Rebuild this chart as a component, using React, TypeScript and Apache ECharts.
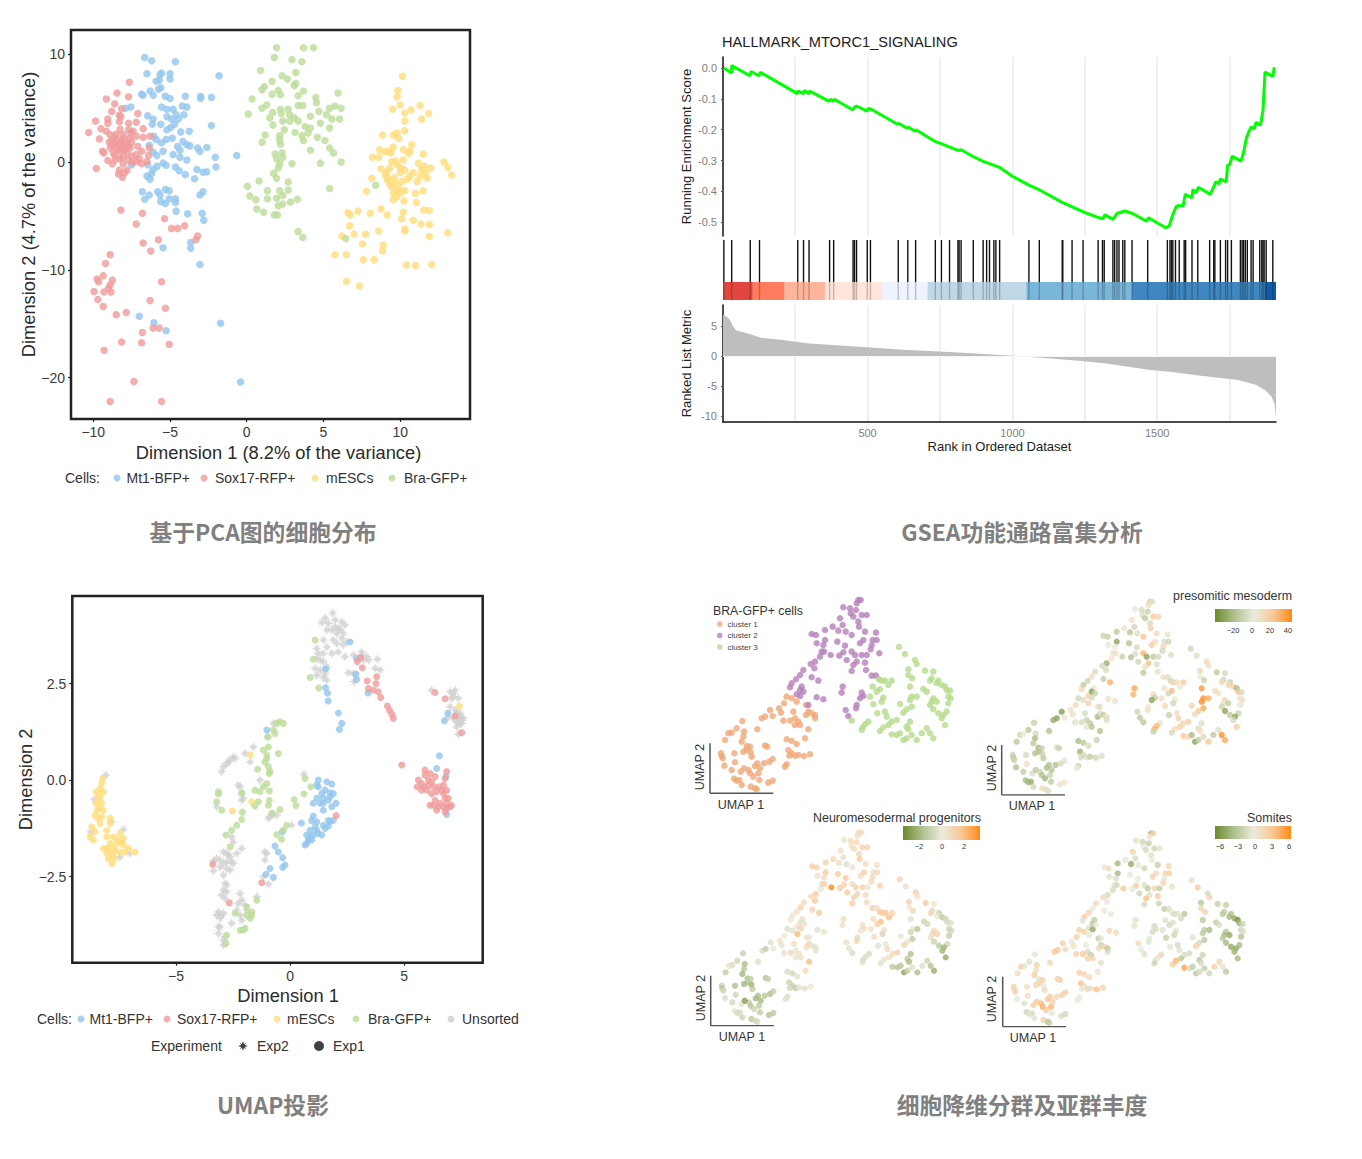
import React, { useEffect, useRef } from "react";
import * as echarts from "echarts";

const FONT = "Liberation Sans";
const CJK = "Noto Sans CJK SC";
const BLUE = "#92C6EE";
const RED = "#F09A9A";
const YELLOW = "#FFDD7C";
const GREEN = "#BBDC98";
const GREY = "#CFCFCF";
const STAR = "path://M5 0L6.1 3.2L8.5 1.5L6.8 3.9L10 5L6.8 6.1L8.5 8.5L6.1 6.8L5 10L3.9 6.8L1.5 8.5L3.2 6.1L0 5L3.2 3.9L1.5 1.5L3.9 3.2Z";

const pcaMt1 = [[-6.65,9.7],[-6.2,9.4],[-4.65,9.3],[-6.5,8.2],[-5.65,8.1],[-5.55,8.25],[-5,8.2],[-5,7.7],[-5.9,7.5],[-5.7,7.6],[-1.8,8],[-5.6,6.9],[-5.75,6.75],[-6.85,6.3],[-6.75,6.2],[-6.3,6.6],[-6.1,6.2],[-5.3,6.1],[-5,5.9],[-4,6.1],[-3,6.1],[-3,5.9],[-2.3,6],[-7.9,5],[-7.55,5.1],[-5.55,5.1],[-5.2,4.9],[-4.8,4.9],[-4.2,5.2],[-3.9,5.1],[-4.6,4.4],[-4.1,4.4],[-6.45,4.3],[-6.1,4],[-5.2,4.2],[-4.9,4],[-4.45,4],[-6.15,3.5],[-5.6,3.5],[-4.7,3.5],[-5.2,3],[-4.95,3.2],[-2.3,3.4],[-4.3,2.8],[-3.75,2.85],[-6.05,2.4],[-5.9,2.1],[-5.55,1.8],[-5.25,2.1],[-4.85,2.2],[-4.15,1.9],[-4.5,1.45],[-4.35,1.1],[-3.9,1.6],[-3.7,1.5],[-3.2,1.3],[-3.05,1],[-2.6,1.35],[-6.35,1.55],[-6.1,0.9],[-5.85,0.6],[-5.45,1],[-4.8,0.7],[-4.35,0.45],[-3.9,0.2],[-2.05,0.45],[-2,-0.45],[-0.65,0.6],[-5.45,-0.1],[-5.25,-0.3],[-4.65,-0.45],[-4.4,-0.8],[-4,-1.15],[-3.25,-0.7],[-2.85,-0.95],[-2.6,-0.9],[-3.4,-1.55],[-5.85,-0.4],[-6.1,-0.7],[-6.5,-1.3],[-6.3,-1.6],[-6.2,-1.05],[-7.5,-0.25],[-6.45,-0.25],[-6.8,-2.75],[-6.35,-3.05],[-6.65,-3.45],[-5.8,-2.75],[-5.65,-3.05],[-5.3,-2.55],[-5.05,-2.65],[-5.6,-3.65],[-5.3,-3.85],[-5.05,-3.4],[-4.65,-3.4],[-4.65,-3.75],[-3.05,-3.05],[-2.85,-2.75],[-4.6,-4.55],[-3.85,-4.8],[-2.9,-4.75],[-2.8,-5.4],[-3.65,-7.45],[-3.65,-8],[-5.45,-7.95],[-3.05,-9.5],[-7,-14.3],[-6.05,-14.9],[-5.25,-15.65],[-1.7,-14.95],[-0.4,-20.4]];
const pcaSox17 = [[-7.65,7.4],[-8.45,6.4],[-9.15,5.85],[-7.7,6.05],[-8.6,5.4],[-8.15,4.95],[-8.8,4.7],[-7.1,4.5],[-8.3,4.35],[-9.05,4],[-9.85,3.8],[-9.05,3.6],[-7.7,3.6],[-7.2,3.7],[-9.5,3.1],[-8.3,3.75],[-6.75,3.1],[-10.3,2.75],[-9.15,2.85],[-8.25,3.05],[-7.7,3],[-7.4,2.85],[-9.6,2.15],[-8.9,2.55],[-8.6,2.3],[-8.05,2.55],[-7.6,2.2],[-7.2,2.4],[-6.75,2.3],[-6.3,2.4],[-8.95,1.85],[-8.6,1.75],[-8.15,2],[-7.8,1.75],[-7.5,1.85],[-7.1,1.45],[-8.9,1.3],[-8.5,1.3],[-8.05,1.45],[-7.6,1.3],[-9.4,1],[-9.3,0.85],[-8.7,0.85],[-8.25,1],[-7.8,0.85],[-6.85,1],[-6.35,1.3],[-6.4,0.6],[-9.05,0.15],[-8.75,-0.15],[-8.25,0.3],[-8.05,-0.15],[-7.7,0.2],[-7.2,0.7],[-7.2,0.05],[-6.85,-0.15],[-6.5,0.05],[-9.8,-0.6],[-8.3,-0.75],[-7.8,-0.75],[-8.35,-1.1],[-8.1,-1.4],[-7.95,-1],[-8.4,2.05],[-8.8,2.1],[-8.2,1.6],[-7.95,2.2],[-8.3,1.15],[-7.95,1.15],[-8.6,0.6],[-7.5,0.55],[-8.2,4.2],[-8.05,0.5],[-8.75,1.55],[-8.4,1.6],[-7.7,1.55],[-8.5,2.6],[-7.55,2.7],[-8.55,0.25],[-7.45,-0.05],[-7.0,0.3],
[-8.2,-4.45],[-6.8,-4.75],[-7.2,-5.75],[-5.35,-5.25],[-4.9,-6.15],[-4.5,-6.15],[-4.05,-5.9],[-3.2,-6.85],[-3.3,-7.2],[-5.75,-7.2],[-6.75,-7.5],[-6.25,-8.25],[-8.9,-8.6],[-9.2,-9.4],[-9.35,-10.55],[-9.75,-10.85],[-9.65,-11.1],[-8.75,-10.95],[-8.9,-11.4],[-9,-11.7],[-9.95,-12],[-9.3,-12.05],[-8.85,-12.05],[-9.7,-12.75],[-9.35,-13.4],[-5.55,-11.1],[-6.3,-12.85],[-5.3,-13.55],[-8.5,-14.15],[-7.85,-13.95],[-6.8,-15.8],[-6.1,-15.4],[-5.7,-15.4],[-8.15,-16.7],[-6.85,-16.75],[-5.05,-16.9],[-9.3,-17.45],[-7.35,-20.35],[-8.9,-22.2],[-5.55,-22.2]];
const pcaMesc = [[10.15,7.95],[9.85,6.65],[9.8,6.05],[10,5.3],[9.5,4.9],[11.3,5.25],[10.7,4.85],[10.3,4.55],[11.85,4.5],[11.4,4],[10.3,3.8],[10.3,2.9],[8.85,2.5],[9.55,2.5],[9.9,2.2],[9.8,2.7],[10.75,1.6],[10.2,1.15],[8.65,1.15],[9.25,1],[9.55,1.4],[10.65,1],[11.5,0.75],[8.2,0.45],[8.6,0.45],[10.2,0.2],[9.45,0],[9.8,-0.25],[11.2,-0.1],[12.85,0],[13.1,-0.5],[13.35,-1.2],[8.75,-0.65],[12,-0.55],[9.05,-1.2],[10,-1],[10.85,-1],[11.65,-1],[8.15,-1.5],[9.15,-1.65],[10.45,-1.6],[11.1,-1.8],[11.75,-1.5],[9.4,-2.25],[9.9,-2.4],[10.3,-2.65],[9.55,-2.9],[7.8,-2.7],[11,-2.9],[11.5,-2.65],[9.55,-3.5],[10.25,-3.6],[11.05,-3.75],[9,0.95],[9.4,0.85],[9.7,0.1],[10.05,-0.55],[9.3,-0.6],[9.2,-1.55],[9.7,-1.9],[10.1,-1.8],[9.75,-2.6],[10,-2.85],[9.35,-2.05],[11.4,-0.7],[11.6,-0.4],[10.6,-1.35],[10.55,0.8],[9.1,-0.95],[9.6,-1.45],[10.3,-0.75],[11.3,-1.3],[9.8,-3.2],
[8.75,-4.35],[11.55,-4.45],[11.9,-4.5],[6.6,-4.7],[6.75,-4.9],[7.25,-4.55],[8.05,-4.75],[9.15,-4.9],[10.2,-4.65],[10.1,-5.25],[10.85,-5.4],[11.35,-5.75],[11.9,-5.8],[6.7,-5.9],[10.3,-6.2],[10.3,-6.4],[8.6,-6.4],[7.75,-6.7],[7,-6.7],[6.2,-6.85],[13.1,-6.55],[11.9,-6.9],[8.9,-7.7],[7.55,-7.6],[8.85,-8.25],[5.75,-8.6],[6.5,-8.6],[7.6,-9.05],[8.3,-9.05],[10.4,-9.55],[11,-9.6],[12.05,-9.5],[6.5,-11.05],[7.35,-11.5]];
const pcaBra = [[1.95,10.6],[3.7,10.6],[4.35,10.6],[1.8,9.7],[2.95,9.5],[3.6,9.3],[0.9,8.5],[3.2,8.3],[2.3,8],[2.65,7.7],[1.65,7.5],[3.2,7.3],[3.1,7.1],[1.15,7],[1,6.7],[2.05,6.65],[2.2,6.25],[1.65,6.3],[3.7,6.6],[3.35,6.15],[5.95,6.4],[4.5,6],[0.35,5.85],[4.55,5.5],[1.3,5.3],[1,5],[3.35,5.25],[3.65,5.25],[2.2,4.9],[2.7,4.9],[5.75,5.2],[5.4,5],[6.15,5],[4.7,4.7],[0.1,4.45],[1.7,4.6],[2.25,4.5],[1.5,4.1],[2.8,4.4],[3.1,4.1],[4.15,4.25],[5.2,4.4],[5.55,4],[6.05,4],[2.35,3.8],[2.8,3.8],[3.35,3.8],[1.7,3.45],[4.8,3.6],[3.8,3.3],[4.15,3.15],[2.45,3],[3.15,2.75],[4,2.7],[5.4,3.15],[1.2,2.5],[2.15,2.45],[3.6,2.45],[4.6,2.3],[1,1.85],[2.15,2.05],[2.2,1.65],[3.7,2],[5.1,2],[5.4,1.3],[4.15,1.1],[5.65,0.85],[1.85,0.75],[2.3,0.85],[1.95,0.3],[2.35,0.45],[6.15,0],[4.8,-0.1],[2.95,-0.15],[2.15,-0.15],[2.05,-0.55],[1.75,-1.05],[1.95,-1.5],[0.8,-1.75],[2.7,-1.85],[0.05,-2.25],[5.4,-2.45],[1.35,-2.65],[2.15,-2.65],[2.7,-2.6],[0.2,-3.15],[0.6,-3.5],[1.35,-3.4],[1.95,-3.35],[2.35,-3.1],[3.3,-3.45],[2.85,-3.7],[2.35,-3.9],[2.05,-4.05],[0.65,-4.35],[1.1,-4.65],[1.8,-4.9],[2,-4.9],[3.35,-6.45],[3.65,-7],[6.45,-7.1],[8.4,-2.15]];

const gseaEsRank = [4,30,31,94,98,125,130,258,260,278,282,297,300,368,372,382,385,448,455,462,498,500,510,605,607,638,640,664,667,733,754,782,812,823,864,899,921,955,1000,1057,1093,1170,1245,1300,1312,1320,1347,1361,1388,1415,1463,1470,1529,1541,1552,1565,1575,1589,1597,1620,1623,1634,1642,1683,1691,1702,1713,1718,1738,1743,1750,1759,1789,1797,1808,1816,1824,1835,1841,1856,1861,1865,1872,1899,1904];
const gseaEsScore = [0,-0.016,0.008,-0.025,-0.011,-0.025,-0.014,-0.083,-0.074,-0.083,-0.073,-0.083,-0.075,-0.108,-0.101,-0.108,-0.101,-0.135,-0.127,-0.123,-0.14,-0.133,-0.132,-0.183,-0.179,-0.196,-0.191,-0.205,-0.2,-0.238,-0.245,-0.256,-0.267,-0.265,-0.287,-0.303,-0.31,-0.322,-0.351,-0.38,-0.395,-0.435,-0.467,-0.486,-0.489,-0.476,-0.491,-0.472,-0.464,-0.472,-0.497,-0.486,-0.518,-0.513,-0.48,-0.45,-0.446,-0.448,-0.41,-0.421,-0.394,-0.405,-0.387,-0.41,-0.394,-0.369,-0.376,-0.36,-0.369,-0.316,-0.313,-0.286,-0.302,-0.278,-0.227,-0.207,-0.191,-0.198,-0.176,-0.186,-0.16,-0.138,-0.013,-0.027,0.003];
const gseaHitRanks = [4,31,95,127,259,279,298,369,383,450,455,462,499,510,606,639,666,734,755,783,812,816,823,865,899,911,921,936,943,956,1057,1093,1172,1174,1206,1244,1296,1311,1317,1347,1353,1361,1368,1381,1388,1413,1467,1535,1544,1549,1554,1563,1576,1593,1598,1620,1640,1681,1695,1699,1718,1736,1743,1756,1787,1793,1798,1804,1811,1824,1831,1854,1861,1865,1869,1876,1899];
const gseaBandEdges = [1,104,214,353,550,707,1048,1413,1872,1910];
const gseaBandColors = ["#E2473F","#FF7C5E","#FFB59C","#FFE5DA","#EFF3FF","#BFD8E8","#78B6DA","#3F87C0","#0F5BA6"];
const metricRank = [1,15,25,35,46,90,135,200,298,500,620,748,860,1000,1020,1100,1240,1330,1470,1550,1650,1780,1840,1875,1895,1905,1910];
const metricValue = [6.9,6.5,6,5,4.3,3.7,3,2.7,2.1,1.45,1.05,0.75,0.45,0.03,0,-0.3,-0.85,-1.3,-2.3,-2.65,-3.3,-4,-4.8,-5.8,-6.8,-8,-10.3];

const umapUnsorted = [[1.87,4.33],[1.54,4.19],[1.39,4.08],[1.68,4.06],[1.97,4.15],[2.27,4.1],[2.41,4.02],[1.83,3.89],[2.05,3.8],[2.27,3.67],[2.49,3.58],[1.46,3.63],[1.17,3.41],[1.46,3.28],[1.83,3.28],[2.12,3.32],[2.41,3.2],[1.17,3.15],[1.46,3.07],[1.61,2.94],[1.1,2.89],[1.17,2.72],[1.46,2.66],[1.61,2.59],[2.78,3.24],[3.14,3.32],[3.22,3.11],[3.44,3.11],[3.83,3.13],[3.73,2.89],[3.95,2.85],[2.56,2.78],[2.78,2.76],[2.81,2.55],[6.21,2.33],[7.02,2.29],[7.09,2.12],[7.38,2.12],[7.02,1.9],[7.38,1.68],[7.6,1.6],[7.38,1.51],[7.16,1.6],[7.31,1.38],[6.94,1.64],[7.38,1.19],[7.53,1.55],[7.31,1.73],[0.61,0.15],[-8.08,0.13],[-8.58,-0.5],[-8.74,-1.34],[-7.31,-1.28],[-7.82,-1.08],[-7.46,-1.99],[-7.02,-1.9],[-0.73,1.47],[-0.95,1.12],[-1.61,0.86],[-1.97,0.69],[-2.49,0.6],[-2.63,0.52],[-2.78,0.43],[-3,0.22],[-1.75,0.47],[-2.27,-0.13],[-2.12,-0.35],[-2.12,-0.52],[-3.22,-0.69],[-0.95,-0.99],[-0.58,-0.91],[0.07,-1.17],[-1.32,0],[-2.12,-1.77],[-2.34,-1.9],[-2.92,-1.86],[-2.63,-1.99],[-3.22,-2.03],[-2.92,-2.16],[-3.36,-2.09],[-2.49,-2.16],[-2.63,-2.33],[-3.36,-2.35],[-2.92,-2.46],[-2.85,-2.68],[-2.92,-2.85],[-2.85,-3.07],[-2.19,-2.94],[-2.27,-3.2],[-3.14,-3.41],[-2.92,-3.45],[-2.34,-3.37],[-2.56,-3.71],[-2.12,-3.63],[-3.07,-3.58],[-3.14,-3.97],[-2.92,-4.27],[-1.1,-1.86],[-1.1,-2.07],[-1.17,-2.5],[-0.95,-2.69],[-1.46,-3.02],[-1.9,-3.37],[-2.7,-1.94],[-2.85,-4.06],[-3.07,-2.25],[-2.78,-2.89],[-2.78,-2.29],[-3.22,-3.5],[-3.07,-3.8],[2.12,3.93],[2.34,3.8],[1.24,3.28],[1.32,2.85],[7.24,2.33],[7.16,2.16],[7.46,1.47],[7.46,1.6],
[1.9,3.63],[2.05,3.54],[2.34,3.5],[1.61,3.45],[1.32,3.11],[1.97,3.97],[1.61,3.89],[2.19,3.89],[1.54,2.76],[3.14,3.24],[3.36,3.2],[-2.78,-1.9],[-3.07,-2.07],[-2.78,-2.12],[-2.56,-2.12],[-2.78,-2.72],[-3,-2.98],[-2.12,-3.11],[-1.97,-3.24],[-3,-3.5],[-2.19,-3.5],[-3.14,-3.8],[-2.92,-4.15],[7.24,1.81],[7.31,1.51],[7.53,1.47],[7.46,1.73],[7.16,2.25],[-2.7,0.47],[-2.41,0.56],[-2.92,0.35],[-2.19,-0.17],[-2.05,-0.47],[-0.88,-0.95],[-0.73,-0.88],[-2.56,-1.47],[-2.49,-1.6],[-1.02,-1.9]];
const umapMesc = [[-8.22,0.04],[-8.26,-0.09],[-8.33,-0.22],[-8.51,-0.3],[-8.19,-0.3],[-8.33,-0.43],[-8.51,-0.6],[-8.26,-0.6],[-8.45,-0.78],[-8.19,-0.78],[-8.55,-0.91],[-8.26,-0.95],[-7.89,-0.99],[-7.89,-1.12],[-8.33,-1.12],[-8.7,-1.21],[-8.04,-1.3],[-8.55,-1.34],[-8.77,-1.47],[-8.63,-1.55],[-8.04,-1.47],[-7.75,-1.47],[-7.46,-1.38],[-7.31,-1.51],[-7.53,-1.6],[-7.31,-1.68],[-7.68,-1.73],[-8.04,-1.77],[-8.19,-1.77],[-7.09,-1.77],[-7.24,-1.86],[-6.8,-1.86],[-8.04,-1.9],[-7.82,-1.94],[-7.68,-2.03],[-7.97,-2.03],[-7.82,-2.16],[-7.46,-1.86],[-7.89,-1.64],[-8.42,-0.45],[-8.38,-0.7],[-8.42,-1.0],[-7.6,-1.55],[-7.42,-1.6],[-7.95,-1.8],[-7.7,-1.85],[-1.75,0.66],[-1.68,-0.56],[-2.53,-0.8],[7.43,1.92]];
const umapMt1 = [[1.24,0],[1.17,-0.13],[1.61,-0.04],[1.83,-0.1],[1.39,-0.35],[1.75,-0.33],[1.9,-0.35],[1.17,-0.47],[1.46,-0.47],[1.68,-0.52],[2.02,-0.6],[1.02,-0.6],[1.83,-0.69],[1.46,-0.78],[1.02,-0.93],[1.75,-1.08],[1.9,-1.04],[1.17,-1.08],[0.95,-1.05],[0.5,-1.11],[1.54,-1.25],[1.68,-1.19],[0.88,-1.3],[1.17,-1.3],[1.39,-1.42],[0.73,-1.42],[0.95,-1.55],[0.8,-1.55],[0.73,-1.64],[0.66,-1.68],[-0.34,-1.34],[-0.66,-1.71],[-0.51,-1.86],[-0.32,-2.01],[-0.22,-2.2],[-0.32,-2.26],[-0.88,-2.29],[-1.05,-2.44],[-0.73,-2.52],[2.63,3.58],[1.56,2.88],[1.56,2.39],[1.64,2.25],[1.67,2.05],[2.12,1.74],[2.27,1.47],[2.16,1.31],[2.89,2.75],[2.92,2.61],[3.42,2.26],[6.92,1.73],[6.77,1.54],[6.55,0.63],[6.43,0.3],[6.84,0.09],[6.87,-0.89],[-1.02,1.3],[2.92,3.15],[1.24,-0.17],[1.54,-0.26],[1.75,-0.43],[1.32,-0.6],[1.46,-0.6],[1.68,-1.04],[1.46,-1.17],[1.24,-1.38],[1.1,-1.21],[1.02,-1.42],[0.88,-1.47]];
const umapSox17 = [[3.1,3.17],[2.95,3.07],[3.17,2.91],[3.39,2.57],[3.8,2.68],[3.77,2.5],[3.44,2.37],[3.65,2.33],[3.87,2.29],[3.98,2.14],[4.27,1.92],[4.36,1.81],[4.46,1.71],[4.53,1.6],[4.9,0.39],[6.36,2.27],[6.8,2.11],[7.24,1.66],[7.53,1.23],[5.92,0.26],[6.14,0.17],[5.63,0],[5.77,-0.09],[6.21,-0.04],[6.87,0.22],[6.8,0.04],[5.58,-0.17],[5.77,-0.26],[6.29,-0.17],[6.73,-0.13],[6.21,-0.35],[6.73,-0.35],[6.94,-0.47],[6.29,-0.65],[6.58,-0.6],[6.87,-0.6],[7.02,-0.69],[6.43,-0.78],[6.8,-0.82],[2.02,-0.92],[-2.66,-3.18],[-1.24,-2.66],[-3.39,-2.18],[5.92,0.13],[6.07,0],[6.36,0.09],[6.51,-0.17],[6.43,-0.3],[6.65,-0.26],[6.36,-0.52],[6.51,-0.69],[6.73,-0.69],[6.87,-0.73],[5.88,-0.17],[6,-0.26],[6.07,-0.13],[6.87,-0.26],[6.8,-0.47],[6.14,-0.65],[7.08,-0.65]];
const umapBra = [[-0.44,1.51],[-0.29,1.47],[-0.66,1.21],[-0.99,1.12],[-0.95,0.86],[-1.17,0.78],[-0.51,0.69],[-1.02,0.56],[-0.95,0.35],[-1.42,0.28],[-0.91,0.17],[-1.02,-0.09],[-1.54,-0.26],[-1.32,-0.3],[-0.91,-0.28],[-2.12,-0.33],[-3.14,-0.3],[-3.14,-0.36],[0.66,0.04],[0.91,-0.17],[0.61,-0.36],[0.18,-0.5],[0.26,-0.66],[-0.91,-0.52],[-0.95,-0.65],[-1.39,-0.56],[-1.54,-0.67],[-3.22,-0.56],[-3,-0.78],[-2.09,-0.83],[-0.44,-0.76],[-0.8,-0.85],[-2.12,-1.02],[-2.34,-1.17],[-2.56,-1.3],[-2.81,-1.42],[-2.63,-1.73],[-0.15,-1.17],[-0.29,-1.3],[-0.58,-1.41],[-0.37,-1.53],[-1.46,-3.11],[-1.68,-3.41],[-1.9,-3.28],[-1.75,-3.58],[-2.19,-3.89],[-1.97,-3.84],[-2.41,-3.45],[-2.78,-4.02],[-2.81,-4.23],[1.1,3.63],[1.02,3.13],[0.88,2.66],[1.26,2.39],[-1.02,0.65],[-1.1,0.47],[-0.88,0.22],[-1.17,-0.17],[-0.73,1.3],[-0.58,1.47],[-1.9,-3.5],[-1.68,-3.5],[-2.05,-3.88]];

const braCluster1 = [[0.33,1.2],[0.35,1.12],[0.38,1.05],[0.43,0.83],[0.65,0.7],[0.45,1.6],[0.55,1.8],[0.65,1.82],[0.8,1.95],[0.97,2.17],[1.02,1.85],[1,1.7],[0.95,1.55],[1.1,1.42],[1.2,1.4],[1.1,1.3],[1,1.25],[1.22,1.23],[0.73,1.2],[0.75,0.93],[0.92,0.65],[1.25,1.1],[1.42,0.9],[1.35,0.82],[1.15,0.7],[1.2,0.6],[1.3,0.5],[1.02,0.75],[1.45,0.6],[1.5,0.75],[1.62,0.9],[1.78,0.95],[1.88,1.03],[1.65,1.43],[1.72,1.4],[0.72,0.44],[0.88,0.4],[0.95,0.25],[0.8,0.38],[1.22,0.2],[1.35,0.15],[1.4,0.12],[1.48,0.4],[1.75,0.32],[1.88,0.38],[1.42,1.92],[1.55,2.25],[1.65,2.3],[1.8,2.5],[1.88,2.32],[2.07,2.55],[2.13,2.42],[2.22,2.7],[2.3,2.9],[2.45,2.85],[2.6,2.75],[2.5,2.45],[2.55,2.25],[2.65,2.15],[2.55,2.05],[2.7,2.05],[2.88,2.35],[2.95,2.45],[2.88,2.65],[3.05,2.4],[3.15,2.35],[3.15,2.25],[2.95,1.92],[2.85,1.65],[2.3,1.62],[2.45,1.57],[2.6,1.48],[2.35,1.3],[2.45,1.2],[2.55,1.13],[2.38,1.13],[2.65,1.15],[2.82,1.12],[3,1.17],[2.3,0.87],[2.25,0.8],[2.2,2.18],[2.4,2.18]];
const braCluster2 = [[4.45,5.8],[4.52,5.8],[4.4,5.7],[4,5.58],[4.2,5.55],[4.38,5.5],[4.22,5.4],[4.3,5.3],[4.55,5.35],[4.7,5.35],[3.9,5.25],[3.98,5.05],[3.68,5],[3.45,4.9],[3.85,4.88],[4.07,4.85],[4.45,5.15],[4.47,5],[4.65,4.85],[4.98,4.82],[3.05,4.78],[3.18,4.75],[3.45,4.6],[3.4,4.45],[3.2,4.5],[3.82,4.55],[4.05,4.43],[4.25,4.75],[4.6,4.6],[4.5,4.5],[4.88,4.6],[5,4.6],[4.85,4.45],[4.82,4.32],[5.08,4.2],[3.35,4.25],[3.42,4.25],[3.3,4.1],[3.15,3.95],[3.02,3.88],[3.62,4.15],[4,4.23],[3.88,4.13],[4.25,4.25],[4.35,4.15],[4.1,4],[4.55,4.15],[4.7,4.15],[4.4,3.95],[4.3,3.85],[4.25,3.67],[4.65,3.92],[2.8,3.7],[2.7,3.55],[2.58,3.42],[2.45,3.3],[2.4,3.18],[3.13,3.75],[3.05,3.48],[3.25,3.38],[4.68,3.7],[4.85,3.53],[4.98,3.53],[2.75,3.2],[2.7,3.1],[2.8,3.05],[2.6,2.97],[2.7,2.92],[3.98,3.2],[3.95,3.02],[3.2,2.88],[3.4,2.82],[2.95,2.65],[4.55,3.02],[4.6,2.92],[4.5,2.85],[4.4,2.65],[4.38,2.55],[4.07,2.5],[4.15,2.32]];
const braCluster3 = [[5.67,4.39],[5.85,4.18],[6.15,4],[6.2,3.88],[6.45,3.68],[6.7,3.65],[5.95,3.72],[5.95,3.55],[6.07,3.45],[6.65,3.45],[6.6,3.38],[6.85,3.38],[6.8,3.3],[6.95,3.25],[7.05,3.2],[7.1,3.1],[7.2,3.08],[7.15,2.9],[7.22,2.85],[5.07,3.42],[5.15,3.38],[5.25,3.38],[5.45,3.38],[5.35,3.25],[5.1,3.12],[4.88,3.2],[5,3.05],[6,3.2],[6.4,3.13],[6.5,3.05],[6.05,2.9],[6.2,2.9],[6,2.8],[6.7,2.85],[6.65,2.75],[6.8,2.75],[4.8,2.9],[5.2,2.87],[5.15,2.75],[4.9,2.67],[5.7,2.68],[6.05,2.6],[5.9,2.52],[5.8,2.42],[6.6,2.65],[6.7,2.52],[6.85,2.4],[7.15,2.7],[7.1,2.45],[7,2.35],[6.95,2.25],[5.02,2.4],[5.25,2.45],[5.3,2.3],[5.6,2.2],[6,2.15],[5.9,2],[5.95,1.92],[7.05,2.05],[4.25,2.18],[4.75,2.15],[4.65,2.07],[4.58,1.98],[4.55,1.9],[5.45,2.15],[5.35,2.05],[5.2,1.98],[5.1,1.87],[5.45,1.77],[5.6,1.75],[5.7,1.8],[5.8,1.6],[5.9,1.65],[6.05,1.75],[6.2,1.6],[6.35,1.8],[6.5,1.95],[6.6,1.8],[6.7,1.65]];

const psmScores = [-8,-14,-10,-18,-12,-15,-8,5,-16,-12,-6,-20,-14,-22,-10,-18,-16,-12,-6,10,-5,-14,-16,-20,-8,-18,-22,-14,-10,-16,-18,-6,-2,-4,-10,-22,-25,-8,-24,12,-4,-3,-14,8,6,-18,-26,-30,-32,5,8,10,14,-8,-4,16,-5,-10,-14,6,-16,-22,-4,8,-12,10,-5,-18,-10,-20,-14,-6,-24,-8,-3,-6,-12,-8,-4,-10,2,-3,-6,
-10,-3,12,4,-6,-10,-4,-14,22,14,10,-8,8,-14,-16,-4,-6,18,12,6,-10,-12,-30,4,2,-18,-6,24,10,20,-4,-8,14,-6,-4,10,8,6,-26,-6,-10,-4,-18,30,-30,-8,-14,-6,26,10,-14,-4,-5,12,-8,-14,14,-6,-12,32,-2,8,-4,6,-32,-10,18,-6,35,30,10,8,-4,12,-12,-30,4,10,-8,-14,
-8,-4,14,10,-14,-6,16,2,-10,-8,14,-10,14,18,-20,26,-6,10,8,-6,18,12,22,4,28,6,-8,38,12,8,40,32,42,16,8,-12,10,4,-8,14,18,34,22,14,-8,-30,-14,6,-10,-30,-6,-12,10,16,18,-4,-4,12,22,-14,8,28,30,-10,16,20,12,-6,22,14,-20,-30,-12,-6,24,-14,-4,42,34];
const nmpScores = [-1,-1.6,-0.8,-0.5,-0.7,-1.2,0.6,-0.5,-0.9,-1.1,-1.8,-1.5,-2,-1.6,-1.2,-1.4,-2,-2.2,-1.7,-0.8,0.4,-1.3,-1.8,-2,-1.1,-1.6,-0.9,-2.8,-1.3,-1.9,-1.4,-1.7,-1.2,-1.5,-1.1,0.4,-0.6,-0.9,-0.7,-1.4,-0.8,-0.6,-1.2,-1.6,-1.4,-0.4,-0.5,-1.1,-0.4,0.2,0.6,-0.3,0.2,-0.5,-0.3,2.2,0.8,-0.2,0.5,0.4,0.6,0.8,1.2,0.3,-0.2,-0.4,-0.3,2,0.9,-0.6,-0.8,-0.3,-0.9,-1,-1.2,-0.7,-0.3,-0.4,0.3,-0.5,-0.4,0.5,0.8,
1,0.8,0.9,0.4,0.9,1,0.6,0.8,1.4,1.1,0.5,-0.3,0.9,1.2,0.6,-0.4,0.9,1.6,0.7,0.5,1.4,1.2,1.5,0.8,0.6,1.5,1.6,0.4,1.4,0.9,0.7,1,0.9,0.8,1.2,1.3,1,-0.2,1.6,0.9,3.4,1.3,1.5,0.8,1.4,1.6,1.1,0.5,1.2,1.3,1.5,0.9,0.8,1.4,0.6,0.4,0.2,1.5,1.1,1.6,0.9,1.3,0.5,0.7,-0.4,0.3,0.4,1.2,0.8,0.6,-0.3,0.4,0.4,0.5,0.8,0.3,-0.5,1.2,0.6,-0.3,
1.2,-0.3,1.4,0.6,1.5,0.3,1.1,0.3,1,-0.5,1,-1,0.4,-1.4,-0.8,-0.6,-0.5,-1,-0.7,1.6,1.6,1.8,1.4,2,2,0.8,1.6,-0.4,-0.9,-0.8,0.3,-1.5,-0.8,0.9,1,1.1,0.5,0.6,-0.7,0.8,-0.2,-1.2,0.3,1,0.6,-0.9,-1.4,-1.1,-0.8,-2.2,-2,-0.3,0.2,0.8,1.3,-1.6,-1.4,-1.8,-2.4,-0.6,-0.6,-0.5,-0.5,-0.4,0.9,0.5,0.3,-0.3,-1.3,-1.5,-1.5,-2.6,-1.2,-0.4,-1.8,-0.4,-0.9,-1.6,-2.2];
const somiteScores = [2,1.5,1.8,-0.5,-1,1.2,2.5,-0.8,-1,-0.7,2,1,2.5,-1,1.8,2,1.8,-0.5,0.8,1.2,2.2,1.5,2.5,3,3.5,4.5,3,2.8,4,1.8,1.5,2,2.6,2.4,1.8,-2,-1.5,-0.8,-1,2,-3,-2.5,-0.6,-1.4,-1.8,1.6,2.8,3,2.2,1.6,-0.4,1,2.4,2.6,2,-0.7,-0.4,-1.5,-2.5,2.5,1.8,1.5,-2,-3,2,-3,-1.5,-1,0.4,2.5,1.8,1.4,3.4,1,1.6,-0.6,-1,3.5,2,-0.4,-0.4,1.8,3,
-4,2,0.5,1,-2,-2.5,-0.5,-1.5,-2,-0.8,2,-1.5,-0.5,-4,-5,-0.7,-1,-0.4,-2.5,1.5,-0.6,1.6,-4,-1.2,-0.8,-0.6,-0.5,-2,1.2,2,1.5,2.4,-0.5,1.8,1,-0.8,-1.6,-1.4,-1.5,1.4,3,2.8,-0.6,-1,-3,-2,1.6,-2.5,-1,3.5,-1.5,2.8,1.5,-0.5,1.8,2.5,-0.8,-0.4,-0.5,-0.3,-2,-2.4,-1.3,-2.5,-3,-0.3,-1.5,-5,-0.8,-0.7,1.8,1.4,-0.6,-1.5,-1.2,-1.5,-0.5,-1,1.6,-0.3,
-1,3,-1.5,2,-2.4,-2.5,-3,1.8,2,-2.5,-3,-3.5,-4,-5,-6.5,-4,-2,-2,-1,-0.5,-1.5,-1,-3,-1.5,-1,-1,-1.5,-3,-2.6,-1.4,-3,-4,-3,-3,-4,-5,-1,-1,-2,-2.5,-1,-3,-1.5,2.5,-3,-4,-5,-3.5,-4,-5,-4.5,-0.7,-1.5,-1,-1.5,-2,-3,-1.5,-4,-1,1.8,-0.8,-1,-2,-1.5,-3,4,3,5,-1.5,-2.5,-3,-1.5,-2.5,-2,2.5,2,-0.8,-3];
const umapLegX = [[0,0],[1.9,0]];
const umapLegY = [[0,0],[0,1.5]];

const pcaXTicks = [-10,-5,0,5,10];
const pcaYTicks = [-20,-10,0,10];
const umapXTicks = [-5,0,5];
const umapYTicks = [-2.5,0,2.5];
const gseaXGrid = [250,500,750,1000,1250,1500,1750];
const gseaXLabels = [500,1000,1500];
const esTicks = [0,-0.1,-0.2,-0.3,-0.4,-0.5];
const metricTicks = [5,0,-5,-10];
const HEAT = ["#6D8A2D","#AFC08C","#EAEBDC","#F9C99A","#FF8A14"];

const minus = (v: number | string) => String(v).replace("-", "\u2212");

function boxAxis(min: number, max: number, ticks: number[], name: string, gap: number, gridIndex: number, pad: number[], fmt?: (v: number) => string) {
  return {
    type: "value", gridIndex, min, max, name, nameLocation: "middle", nameGap: gap,
    nameTextStyle: { fontSize: 18.3, color: "#2b2b2b", fontFamily: FONT, padding: pad },
    axisLine: { show: false, onZero: false },
    axisTick: { show: true, length: 3, customValues: ticks, lineStyle: { color: "#222", width: 1.2 } },
    axisLabel: { customValues: ticks, fontSize: 14, color: "#3a3a3a", margin: 6, fontFamily: FONT, formatter: fmt || ((v: number) => minus(v)) },
    splitLine: { show: false },
  };
}

function gseaXAxis(gridIndex: number, bottom: boolean) {
  return {
    type: "value", gridIndex, min: 1, max: 1910,
    name: bottom ? "Rank in Ordered Dataset" : "", nameLocation: "middle", nameGap: 18,
    nameTextStyle: { fontSize: 13, color: "#222", fontFamily: FONT },
    axisLine: { show: bottom, onZero: false, lineStyle: { color: "#111", width: 1.5 } },
    axisTick: { show: false, customValues: gseaXGrid },
    axisLabel: { show: bottom, customValues: gseaXLabels, fontSize: 11, color: "#808080", margin: 5, fontFamily: FONT, formatter: (v: number) => String(v) },
    splitLine: { show: true, lineStyle: { color: "#EBEBEB", width: 1.5 } },
  };
}

function gseaYAxis(gridIndex: number, min: number, max: number, ticks: number[], name: string, fmt: (v: number) => string) {
  return {
    type: "value", gridIndex, min, max, name, nameLocation: "middle", nameGap: 30,
    nameTextStyle: { fontSize: 13, color: "#222", fontFamily: FONT },
    axisLine: { show: true, onZero: false, lineStyle: { color: "#111", width: 1.5 } },
    axisTick: { show: true, length: 2, customValues: ticks, lineStyle: { color: "#555" } },
    axisLabel: { customValues: ticks, fontSize: 11, color: "#808080", margin: 6, fontFamily: FONT, formatter: fmt },
    splitLine: { show: false },
  };
}

const umapPanels = [
  { x: 710, y: 793.3, labelX: 700, labelY: 767, capX: 741, capY: 805 },
  { x: 1001.7, y: 795, labelX: 992, labelY: 768, capX: 1032, capY: 806 },
  { x: 710.7, y: 1025.7, labelX: 701, labelY: 998, capX: 742, capY: 1037 },
  { x: 1002.7, y: 1026.7, labelX: 992, labelY: 999, capX: 1033, capY: 1038 },
];

const headings = [
  { text: "基于PCA图的细胞分布", x: 263, y: 520 },
  { text: "GSEA功能通路富集分析", x: 1022, y: 520 },
  { text: "UMAP投影", x: 273, y: 1093 },
  { text: "细胞降维分群及亚群丰度", x: 1022, y: 1093 },
];

const heatPanels = [
  { title: "presomitic mesoderm", titleRight: 1292, titleY: 596, barX: 1215, barY: 609, barW: 77, barH: 13, min: -40, max: 44, labelY: 630, ticks: [[-20,1233],[0,1252],[20,1270],[40,1288]], scores: psmScores },
  { title: "Neuromesodermal progenitors", titleRight: 981, titleY: 818, barX: 903, barY: 826, barW: 77, barH: 14, min: -3.45, max: 3.45, labelY: 846, ticks: [[-2,919],[0,942],[2,964]], scores: nmpScores },
  { title: "Somites", titleRight: 1292, titleY: 818, barX: 1215, barY: 826, barW: 76, barH: 13, min: -6.9, max: 6.3, labelY: 846.5, ticks: [[-6,1220],[-3,1238],[0,1255],[3,1272],[6,1289]], scores: somiteScores },
];

const pcaLegend = [["Mt1-BFP+",117,1],["Sox17-RFP+",204,2.5],["mESCs",315,2.5],["Bra-GFP+",392,3.5]] as [string, number, number][];
const umapLegend = [["Mt1-BFP+",81,0],["Sox17-RFP+",167,1.5],["mESCs",277,1.5],["Bra-GFP+",356,3.5],["Unsorted",451,2.5]] as [string, number, number][];
const expLegend = [["Exp2",243,STAR],["Exp1",319,"circle"]] as [string, number, string][];

function buildOption() {
  const grid: any[] = [
    { left: 71, top: 30, width: 399, height: 389, show: true, borderColor: "#222", borderWidth: 2.5, backgroundColor: "#fff" },
    { left: 723, top: 57, width: 553, height: 179 },
    { left: 723, top: 240, width: 553, height: 60 },
    { left: 723, top: 305, width: 553, height: 117 },
    { left: 72.3, top: 596, width: 410.4, height: 366.7, show: true, borderColor: "#222", borderWidth: 2.5, backgroundColor: "#fff" },
  ];
  const xAxis: any[] = [
    boxAxis(-11.45, 14.55, pcaXTicks, "Dimension 1 (8.2% of the variance)", 24, 0, [0, 0, 0, 16]),
    gseaXAxis(1, false),
    { type: "value", gridIndex: 2, min: 1, max: 1910, show: false },
    gseaXAxis(3, true),
    boxAxis(-9.55, 8.45, umapXTicks, "Dimension 1", 24, 4, [0, 0, 0, 21]),
  ];
  const yAxis: any[] = [
    boxAxis(-23.83, 12.25, pcaYTicks, "Dimension 2 (4.7% of the variance)", 28, 0, [0, 0, 0, 20]),
    gseaYAxis(1, -0.545, 0.036, esTicks, "Running Enrichment Score", (v) => v.toFixed(1)),
    { type: "value", gridIndex: 2, min: 0, max: 60, show: false },
    gseaYAxis(3, -11, 8.5, metricTicks, "Ranked List Metric", (v) => String(v)),
    boxAxis(-4.73, 4.77, umapYTicks, "Dimension 2", 26, 4, [0, 0, 0, 0], (v) => minus(v.toFixed(1))),
  ];
  const dot = (name: string, data: number[][], color: string, g: number, size: number, symbol = "circle") => ({
    type: "scatter", name, data, xAxisIndex: g, yAxisIndex: g, symbol, symbolSize: size, itemStyle: { color }, silent: true,
  });
  const series: any[] = [
    dot("Mt1-BFP+", pcaMt1, BLUE, 0, 7.5),
    dot("Sox17-RFP+", pcaSox17, RED, 0, 7.5),
    dot("mESCs", pcaMesc, YELLOW, 0, 7.5),
    dot("Bra-GFP+", pcaBra, GREEN, 0, 7.5),
    {
      type: "line", name: "ES", xAxisIndex: 1, yAxisIndex: 1, symbol: "none", silent: true,
      data: gseaEsRank.map((r, i) => [r, gseaEsScore[i]]),
      lineStyle: { color: "#00FF00", width: 3 },
    },
    {
      type: "custom", name: "band", xAxisIndex: 2, yAxisIndex: 2, silent: true,
      data: gseaBandColors.map((c, i) => ({ value: [gseaBandEdges[i], gseaBandEdges[i + 1]], itemStyle: { color: c } })),
      encode: { x: [0, 1] },
      renderItem: (_: any, api: any) => {
        const a = api.coord([api.value(0), 18]);
        const b = api.coord([api.value(1), 0]);
        return { type: "rect", shape: { x: a[0], y: a[1], width: b[0] - a[0], height: b[1] - a[1] }, style: { fill: api.visual("color") } };
      },
    },
    {
      type: "custom", name: "hits", xAxisIndex: 2, yAxisIndex: 2, silent: true,
      data: gseaHitRanks.map((r) => [r]),
      encode: { x: 0 },
      renderItem: (_: any, api: any) => {
        const t = api.coord([api.value(0), 60]);
        const m = api.coord([api.value(0), 18]);
        const b = api.coord([api.value(0), 0]);
        return {
          type: "group",
          children: [
            { type: "line", shape: { x1: t[0], y1: t[1], x2: m[0], y2: m[1] }, style: { stroke: "#111", lineWidth: 1.4 } },
            { type: "line", shape: { x1: m[0], y1: m[1], x2: b[0], y2: b[1] }, style: { stroke: "rgba(0,0,0,0.22)", lineWidth: 1.4 } },
          ],
        };
      },
    },
    {
      type: "line", name: "metric", xAxisIndex: 3, yAxisIndex: 3, symbol: "none", silent: true,
      data: metricRank.map((r, i) => [r, metricValue[i]]),
      lineStyle: { width: 0 }, areaStyle: { color: "#BEBEBE", opacity: 1 },
      markLine: { silent: true, symbol: "none", label: { show: false }, lineStyle: { color: "#F4F4F4", width: 1, type: "solid" }, data: [{ yAxis: 0 }] },
    },
    dot("Unsorted", umapUnsorted, GREY, 4, 10, STAR),
    dot("Mt1-BFP+", umapMt1, BLUE, 4, 7),
    dot("Sox17-RFP+", umapSox17, RED, 4, 7),
    dot("mESCs", umapMesc, YELLOW, 4, 7),
    dot("Bra-GFP+", umapBra, GREEN, 4, 7),
    dot("Exp2", [], "#111", 4, 8, STAR),
    dot("Exp1", [], "#111", 4, 7),
  ];
  const visualMap: any[] = [];
  const all = [...braCluster1, ...braCluster2, ...braCluster3];
  umapPanels.forEach((p, k) => {
    const g = grid.length;
    grid.push({ left: p.x, top: p.y - 206.67, width: 266.67, height: 206.67 });
    xAxis.push({ type: "value", gridIndex: g, min: 0, max: 8, show: false });
    yAxis.push({ type: "value", gridIndex: g, min: 0, max: 6.2, show: false });
    if (k === 0) {
      series.push(dot("cluster 1", braCluster1, "#EFA777", g, 6.5));
      series.push(dot("cluster 2", braCluster2, "#B67FB9", g, 6.5));
      series.push(dot("cluster 3", braCluster3, "#B5DB8A", g, 6.5));
    } else {
      const hp = heatPanels[k - 1];
      visualMap.push({ show: false, seriesIndex: series.length, dimension: 2, min: hp.min, max: hp.max, inRange: { color: HEAT } });
      series.push(dot(hp.title, all.map((c, i) => [c[0], c[1], hp.scores[i] ?? 0]), "#ccc", g, 6.3));
    }
    [umapLegX, umapLegY].forEach((d) =>
      series.push({ type: "line", xAxisIndex: g, yAxisIndex: g, data: d, symbol: "none", silent: true, lineStyle: { color: "#555", width: 1.5 } })
    );
  });

  const legendBase = { orient: "horizontal", icon: "circle", itemWidth: 7, itemHeight: 7, selectedMode: false, textStyle: { fontSize: 14, color: "#333", fontFamily: FONT }, padding: 0 };
  const legend: any[] = [
    ...pcaLegend.map(([name, x, pad]) => ({ ...legendBase, left: x - 3.5, top: 471, textStyle: { ...legendBase.textStyle, padding: [0, 0, 0, pad] }, data: [name] })),
    ...umapLegend.map(([name, x, pad]) => ({ ...legendBase, left: x - 3.5, top: 1012, textStyle: { ...legendBase.textStyle, padding: [0, 0, 0, pad] }, data: [name] })),
    ...expLegend.map(([name, x, icon]) => ({
      ...legendBase, left: x - 5, top: 1039, itemWidth: 10, itemHeight: 10,
      textStyle: { ...legendBase.textStyle, padding: [0, 0, 0, 4] }, data: [{ name, icon }],
    })),
    { ...legendBase, orient: "vertical", left: 717, top: 620, itemGap: 3.5, itemWidth: 5.5, itemHeight: 5.5, textStyle: { fontSize: 8, color: "#444", fontFamily: FONT }, data: ["cluster 1", "cluster 2", "cluster 3"] },
  ];

  const txt = (text: string, x: number, y: number, size: number, align = "left", rot = 0, color = "#333") => ({
    type: "text", x, y, rotation: rot, silent: true,
    style: { text, fontSize: size, fill: color, fontFamily: FONT, align, verticalAlign: "middle" },
  });
  const graphic: any[] = [
    txt("HALLMARK_MTORC1_SIGNALING", 722, 42, 14.6, "left", 0, "#222"),
    txt("Cells:", 65, 478, 14),
    txt("Cells:", 37, 1019, 14),
    txt("Experiment", 151, 1046, 14),
    txt("BRA-GFP+ cells", 713, 610.5, 12.3),
  ];
  umapPanels.forEach((p) => {
    graphic.push(txt("UMAP 2", p.labelX, p.labelY, 12.5, "center", Math.PI / 2));
    graphic.push(txt("UMAP 1", p.capX, p.capY, 12.5, "center"));
  });
  heatPanels.forEach((h) => {
    graphic.push(txt(h.title, h.titleRight, h.titleY, 12.45, "right"));
    graphic.push({
      type: "rect", silent: true, shape: { x: h.barX, y: h.barY, width: h.barW, height: h.barH },
      style: { fill: new echarts.graphic.LinearGradient(0, 0, 1, 0, HEAT.map((color, i) => ({ offset: i / (HEAT.length - 1), color }))) },
    });
    h.ticks.forEach(([v, x]) => graphic.push(txt(minus(v), x, h.labelY, 7.5, "center", 0, "#333")));
  });

  return {
    animation: false,
    backgroundColor: "#fff",
    textStyle: { fontFamily: FONT },
    title: headings.map((h) => ({
      text: h.text, left: h.x, top: h.y, textAlign: "center", padding: 0,
      textStyle: { fontFamily: CJK, fontSize: 22.8, fontWeight: "bold", color: "#808080" },
    })),
    grid, xAxis, yAxis, series, visualMap, legend, graphic,
  };
}

export default function App() {
  const ref = useRef<HTMLDivElement>(null);
  useEffect(() => {
    const chart = echarts.init(ref.current!, undefined, { renderer: "svg" });
    chart.setOption(buildOption() as any);
    return () => chart.dispose();
  }, []);
  return <div ref={ref} style={{ position: "absolute", left: 0, top: 0, width: 1362, height: 1159 }} />;
}
